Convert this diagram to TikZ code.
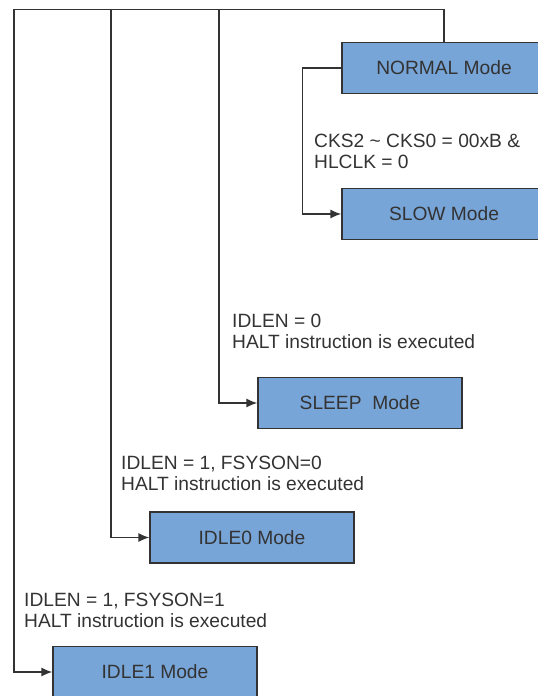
\documentclass[tikz,border=0pt]{standalone}
\usepackage{fontspec}
\setmainfont{Liberation Sans}
\usetikzlibrary{arrows.meta}
\definecolor{modeblue}{RGB}{120,165,215}
\definecolor{linegray}{RGB}{51,51,51}
\begin{document}
\begin{tikzpicture}[x=1pt,y=-1pt,>={Latex[length=11pt,width=9pt]},
	mode/.style={draw=linegray,line width=1.3pt,fill=modeblue,text=linegray,minimum width=204pt,minimum height=51pt,inner sep=0pt,font=\fontsize{19.2}{21}\selectfont},
	cond/.style={anchor=base west,align=left,inner sep=0pt,text=linegray,font=\fontsize{19.2}{21}\selectfont},
	link/.style={draw=linegray,line width=1.4pt}]
		\useasboundingbox (0,0) rectangle (538,696);
		\clip (0,0) rectangle (538,696);
		\node[mode] (normal) at (444,68) {NORMAL Mode};
		\node[mode] (slow) at (444,214) {SLOW Mode};
		\node[mode] (sleep) at (360,403) {SLEEP\ \ Mode};
		\node[mode] (idleZero) at (252,537.5) {IDLE0 Mode};
		\node[mode] (idleOne) at (155,672) {IDLE1 Mode};
		\node[cond] (condSlow) at (314,168) {CKS2 \textasciitilde{} CKS0 = 00xB \&\\HLCLK = 0};
		\node[cond] (condSleep) at (232,348) {IDLEN = 0\\HALT instruction is executed};
		\node[cond] (condIdleZero) at (121,490) {IDLEN = 1, FSYSON=0\\HALT instruction is executed};
		\node[cond] (condIdleOne) at (24,627) {IDLEN = 1, FSYSON=1\\HALT instruction is executed};
		\coordinate (apex) at (14,9.5);
		\coordinate (tapZero) at (111,9.5);
		\coordinate (tapSleep) at (219,9.5);
		\draw[link,->] (normal.north) |- (apex) |- (idleOne.west);
		\draw[link,->] (tapZero) |- (idleZero.west);
		\draw[link,->] (tapSleep) |- (sleep.west);
		\draw[link,->] (normal.west) -- ++(-39,0) |- (slow.west);
		
		\end{tikzpicture}
\end{document}
